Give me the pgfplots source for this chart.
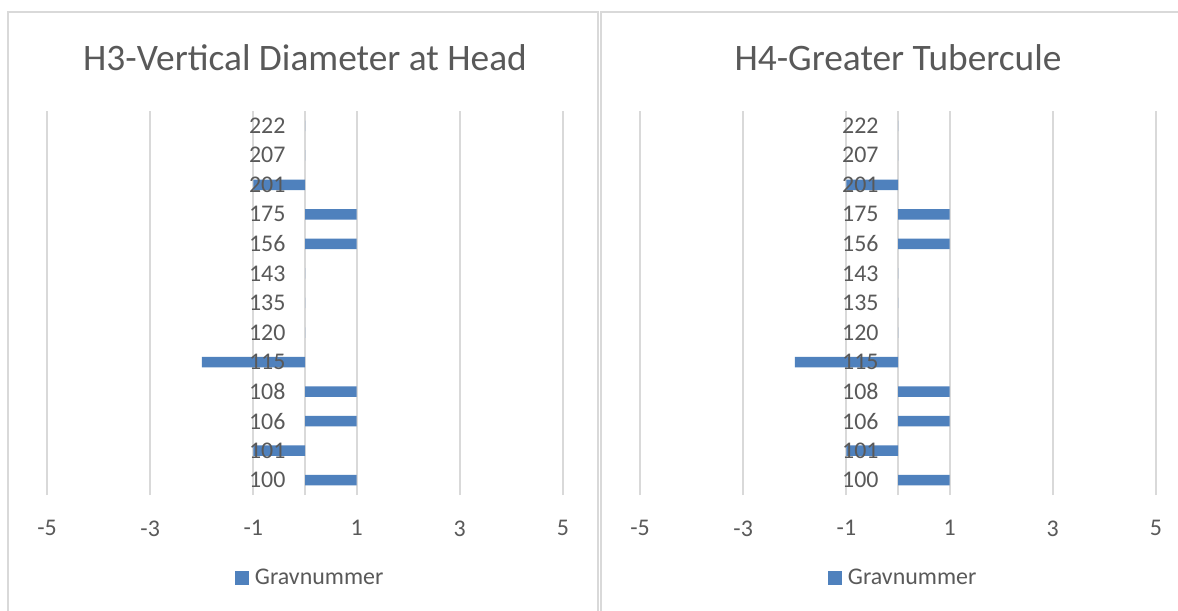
\documentclass[border=0pt]{standalone}
\usepackage{pgfplots}
\pgfplotsset{compat=1.18}
\usepackage{fontspec}
\setmainfont{Carlito}
\definecolor{barblue}{HTML}{4F81BD}
\definecolor{txt}{HTML}{595959}
\definecolor{gridc}{HTML}{D9D9D9}
\pgfplotsset{
  base/.style={
  scale only axis, width=516bp, height=384bp,
  xmin=-5, xmax=5, ymin=-0.5, ymax=12.5,
  xtick={-5,-3,-1,1,3,5},
  ytick={0,...,12},
  axis x line=bottom, axis y line=middle,
  x axis line style={draw=none},
  major tick length=0pt,
  tick label style={font=\fontsize{24}{29}\selectfont, text=txt},
  /pgf/number format/assume math mode=true,
  },
  panel/.style={base,
  yticklabels={},
  y axis line style={draw=gridc, line width=2bp, -},
  xmajorgrids, grid style={gridc, line width=2bp},
  xticklabel style={yshift=-22bp},
  xbar, bar width=10.5bp,
  title style={at={(0.5,1)}, anchor=center, yshift=47bp, font=\fontsize{37.5}{44}\selectfont, text=txt},
  legend style={draw=none, fill=none, at={(0.51,-0.216)}, anchor=center,
    font=\fontsize{24}{29}\selectfont, text=txt},
  legend image code/.code={\fill[barblue] (0bp,-7bp) rectangle (14bp,7bp); \path (18bp,0bp);},
  },
  labels/.style={base,
  xticklabels={},
  y axis line style={draw=none},
  yticklabels={100,101,106,108,115,120,135,143,156,175,201,207,222},
  yticklabel style={xshift=-16bp},
  },
}
\begin{document}
\begin{tikzpicture}
\path[use as bounding box, fill=white] (0,0) rectangle (1178bp,611bp);
\draw[gridc, line width=2bp] (8bp,-2bp) -- (8bp,599bp) -- (598bp,599bp) -- (598bp,-2bp);
\draw[gridc, line width=2bp] (601bp,-2bp) -- (601bp,599bp) -- (1180bp,599bp);
\begin{axis}[panel, at={(47bp,116bp)}, anchor=south west, title={H3-Vertical Diameter at Head}]
\addplot[fill=barblue, draw=none] coordinates {
(1,0) (-1,1) (1,2) (1,3) (-2,4) (0,5) (0,6) (0,7) (1,8) (1,9) (-1,10) (0,11) (0,12)};
\addlegendentry{Gravnummer}
\end{axis}
\begin{axis}[labels, at={(47bp,116bp)}, anchor=south west]
\end{axis}
\begin{axis}[panel, at={(640bp,116bp)}, anchor=south west, title={H4-Greater Tubercule}]
\addplot[fill=barblue, draw=none] coordinates {
(1,0) (-1,1) (1,2) (1,3) (-2,4) (0,5) (0,6) (0,7) (1,8) (1,9) (-1,10) (0,11) (0,12)};
\addlegendentry{Gravnummer}
\end{axis}
\begin{axis}[labels, at={(640bp,116bp)}, anchor=south west]
\end{axis}
\end{tikzpicture}
\end{document}
